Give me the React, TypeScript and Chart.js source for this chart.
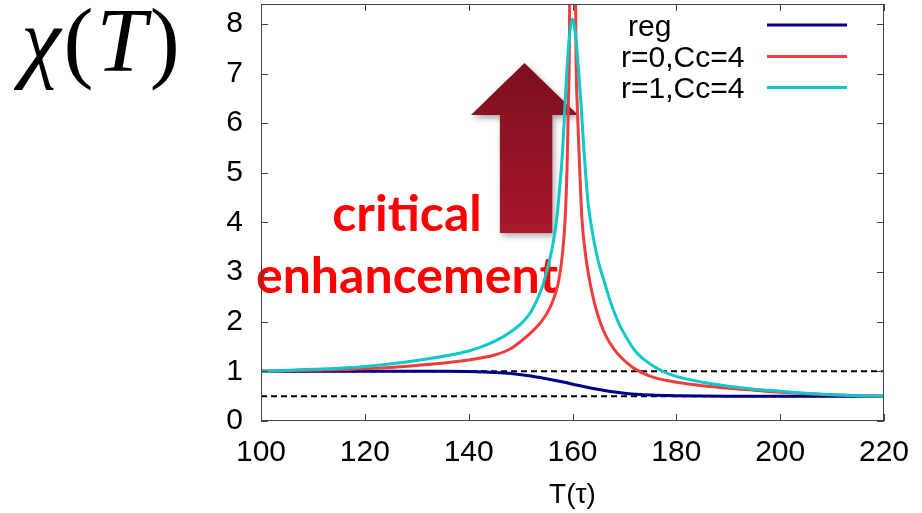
import React, { useEffect, useRef } from 'react';
import { Chart, registerables } from 'chart.js';

Chart.register(...registerables);

const xTicks = [100, 120, 140, 160, 180, 200, 220];
const yTicks = [0, 1, 2, 3, 4, 5, 6, 7, 8];

const regT = [100, 110, 120, 130, 135, 140, 143, 146, 149, 152, 155, 158, 161, 164, 167, 170, 173, 176, 180, 185, 190, 200, 210, 220];
const regV = [1, 1, 1, 1, 1, 0.995, 0.985, 0.97, 0.945, 0.905, 0.85, 0.79, 0.72, 0.655, 0.6, 0.56, 0.535, 0.52, 0.508, 0.502, 0.5, 0.5, 0.5, 0.5];

const redT = [100, 110, 120, 130, 140, 145, 148, 150, 152, 154, 155.5, 156.5, 157.3, 158, 158.6, 159, 159.2, 159.45, 160, 160.6, 160.9, 161.3, 161.8, 162.4, 163.4, 164.3, 165.3, 166.5, 168, 169.2, 170.5, 172, 175, 178, 180, 185, 190, 195, 200, 205, 210, 215, 220];
const redV = [1, 1.02, 1.05, 1.12, 1.23, 1.33, 1.45, 1.6, 1.78, 2.0, 2.25, 2.5, 2.8, 3.3, 4.1, 5.3, 6.4, 8.5, 40, 8.5, 6.4, 5.3, 4.1, 3.44, 2.77, 2.35, 2.0, 1.7, 1.45, 1.3, 1.17, 1.05, 0.9, 0.82, 0.78, 0.71, 0.66, 0.62, 0.58, 0.55, 0.53, 0.51, 0.5];

const cyanT = [100, 110, 120, 130, 140, 144, 147, 150, 152, 154, 155, 156, 157, 157.6, 158.1, 158.6, 159, 159.5, 160, 160.5, 161, 161.6, 162.2, 163, 164, 165, 166, 167, 168, 169, 170, 172, 174, 177, 180, 185, 190, 195, 200, 205, 210, 215, 220];
const cyanV = [1, 1.04, 1.1, 1.22, 1.41, 1.56, 1.72, 1.95, 2.2, 2.65, 3.0, 3.44, 4.11, 4.78, 5.45, 6.46, 7.2, 7.85, 8.1, 7.85, 7.3, 6.46, 5.45, 4.4, 3.7, 3.2, 2.85, 2.5, 2.2, 1.95, 1.75, 1.42, 1.22, 1.02, 0.9, 0.78, 0.7, 0.64, 0.6, 0.56, 0.53, 0.51, 0.5];

const seriesLabels = ['reg', 'r=0,Cc=4', 'r=1,Cc=4'];
const seriesColors = ['#000088', '#f03c3c', '#10c8c8'];
const refLevels = [1, 0.5];
const xRange = [100, 220];
const yRange = [0, 8.4];

const FONT = "'Liberation Sans', Arial, sans-serif";

const pts = (xs: number[], ys: number[]) => xs.map((x, i) => ({ x, y: ys[i] }));

export default function App() {
  const ref = useRef<HTMLCanvasElement>(null);

  useEffect(() => {
    if (!ref.current) return;

    const framePlugin = {
      id: 'frameTicks',
      afterDraw(chart: any) {
        const { ctx, chartArea: a, scales } = chart;
        ctx.save();
        ctx.strokeStyle = '#444';
        ctx.lineWidth = 1;
        ctx.strokeRect(Math.round(a.left) + 0.5, Math.round(a.top) + 0.5, Math.round(a.right - a.left) - 1, Math.round(a.bottom - a.top) - 1);
        ctx.beginPath();
        const tl = 7;
        xTicks.forEach((v) => {
          const px = Math.round(scales.x.getPixelForValue(v)) + 0.5;
          ctx.moveTo(px, a.bottom);
          ctx.lineTo(px, a.bottom - tl);
          ctx.moveTo(px, a.top);
          ctx.lineTo(px, a.top + tl);
        });
        yTicks.forEach((v) => {
          const py = Math.round(scales.y.getPixelForValue(v)) + 0.5;
          ctx.moveTo(a.left, py);
          ctx.lineTo(a.left + tl, py);
          ctx.moveTo(a.right, py);
          ctx.lineTo(a.right - tl, py);
        });
        ctx.stroke();

        // legend
        ctx.font = `30px ${FONT}`;
        ctx.fillStyle = '#000';
        ctx.textBaseline = 'alphabetic';
        ctx.textAlign = 'left';
        const textX = [628, 621, 621];
        const baseY = [36, 67, 98];
        const lineY = [25, 56.5, 87.5];
        seriesLabels.forEach((lab, i) => {
          ctx.fillText(lab, textX[i], baseY[i]);
          ctx.strokeStyle = seriesColors[i];
          ctx.lineWidth = 3;
          ctx.beginPath();
          ctx.moveTo(767, lineY[i]);
          ctx.lineTo(847, lineY[i]);
          ctx.stroke();
        });
        ctx.restore();
      },
    };

    const lineOpts = {
      borderWidth: 3,
      pointRadius: 0,
      fill: false,
      cubicInterpolationMode: 'monotone' as const,
    };

    const chart = new Chart(ref.current, {
      type: 'line',
      data: {
        datasets: [
          { label: seriesLabels[2], data: pts(cyanT, cyanV), borderColor: seriesColors[2], ...lineOpts },
          { label: seriesLabels[1], data: pts(redT, redV), borderColor: seriesColors[1], ...lineOpts },
          { label: seriesLabels[0], data: pts(regT, regV), borderColor: seriesColors[0], ...lineOpts },
          ...refLevels.map((lv) => ({
            label: 'ref' + lv,
            data: xRange.map((x) => ({ x, y: lv })),
            borderColor: '#000',
            borderWidth: 2,
            borderDash: [6, 4],
            pointRadius: 0,
            fill: false,
          })),
        ],
      },
      options: {
        animation: false,
        responsive: false,
        maintainAspectRatio: false,
        devicePixelRatio: 1,
        layout: { padding: { left: 0, right: 38, top: 4, bottom: 0 } },
        plugins: {
          legend: { display: false },
          tooltip: { enabled: false },
        },
        scales: {
          x: {
            type: 'linear',
            min: xRange[0],
            max: xRange[1],
            afterBuildTicks: (s: any) => { s.ticks = xTicks.map((v) => ({ value: v })); },
            afterFit: (s: any) => { s.height = 92; s.paddingLeft = 0; s.paddingRight = 0; s.paddingTop = 0; s.paddingBottom = 0; },
            grid: { display: false, drawTicks: false },
            border: { display: false },
            ticks: { color: '#000', font: { family: FONT, size: 30 }, padding: 14, maxRotation: 0 },
            title: { display: true, text: 'T(τ)', color: '#000', font: { family: FONT, size: 28 }, padding: { top: 0, bottom: 1 } },
          },
          y: {
            type: 'linear',
            min: yRange[0],
            max: yRange[1],
            afterBuildTicks: (s: any) => { s.ticks = yTicks.map((v) => ({ value: v })); },
            afterFit: (s: any) => { s.width = 261; s.paddingTop = 0; s.paddingBottom = 0; s.paddingLeft = 0; s.paddingRight = 0; },
            grid: { display: false, drawTicks: false },
            border: { display: false },
            ticks: { color: '#000', font: { family: FONT, size: 30 }, padding: 18 },
          },
        },
      },
      plugins: [framePlugin],
    } as any);

    return () => chart.destroy();
  }, []);

  return (
    <div style={{ position: 'relative', width: 922, height: 513, background: '#fff', overflow: 'hidden' }}>
      <style>{`body{margin:0;}`}</style>
      <div
        style={{
          position: 'absolute',
          left: 21,
          top: -4,
          fontFamily: "'Liberation Serif', 'DejaVu Serif', serif",
          fontSize: 90,
          lineHeight: '90px',
          letterSpacing: 3,
          whiteSpace: 'nowrap',
          color: '#000',
        }}
      >
        <i>χ</i>(<i>T</i>)
      </div>
      <div style={{ position: 'absolute', left: 471, top: 63, filter: 'drop-shadow(2px 3px 3px rgba(0,0,0,0.35))' }}>
        <div
          style={{
            width: 107,
            height: 170,
            background: 'linear-gradient(to bottom, #7c0f1e, #a8182b)',
            clipPath: 'polygon(50% 0, 100% 52px, 76% 52px, 76% 100%, 27% 100%, 27% 52px, 0 52px)',
          }}
        />
      </div>
      <div
        style={{
          position: 'absolute',
          left: 207,
          top: 181,
          width: 400,
          textAlign: 'center',
          fontFamily: "Lato, 'Open Sans', sans-serif",
          fontWeight: 700,
          fontSize: 50,
          lineHeight: '62px',
          color: '#ff0000',
          whiteSpace: 'nowrap',
        }}
      >
        critical
        <br />
        enhancement
      </div>
      <canvas ref={ref} width={922} height={513} style={{ position: 'absolute', left: 0, top: 0, width: 922, height: 513 }} />
    </div>
  );
}
